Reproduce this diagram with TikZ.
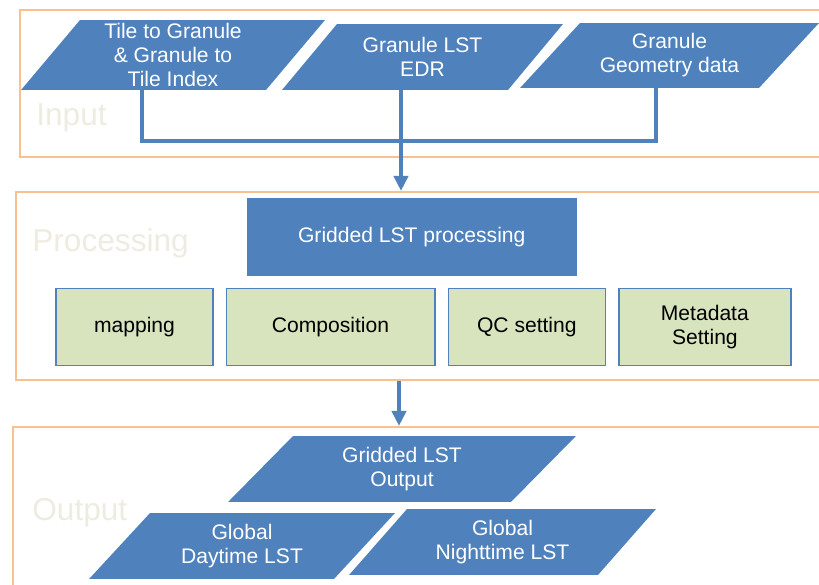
\documentclass[tikz,border=0pt]{standalone}
\usepackage{fontspec}
\setmainfont{Liberation Sans}
\usetikzlibrary{arrows.meta,shapes.geometric,positioning}
\definecolor{accblue}{HTML}{4F81BD}
\definecolor{accgreen}{HTML}{D7E4BD}
\definecolor{accorange}{HTML}{FAC090}
\definecolor{pale}{HTML}{EEECE1}

\begin{document}
\begin{tikzpicture}[x=0.02cm, y=-0.02cm, -,
                    io/.style = {rectangle, inner sep=0pt, text=white, align=center,
                                 font=\fontsize{12}{13.7}\selectfont,
                                 path picture={\fill[accblue]
                                   ([xshift=#1]path picture bounding box.north west)
                                   -- (path picture bounding box.north east)
                                   -- ([xshift=-#1]path picture bounding box.south east)
                                   -- (path picture bounding box.south west) -- cycle;}},
                    io/.default = 1.2cm,
                    frame/.style = {draw=accorange, line width=1.2pt, inner sep=0pt},
                    proc/.style = {fill=accblue, text=white, font=\fontsize{12}{13.7}\selectfont,
                                   minimum width=6.61cm, minimum height=1.56cm},
                    sub/.style = {draw=accblue, line width=0.9pt, fill=accgreen, align=center,
                                  minimum height=1.54cm, font=\fontsize{12}{13.7}\selectfont},
                    tag/.style = {text=pale, anchor=west, inner sep=0pt, font=\fontsize{18}{20}\selectfont},
                    flow/.style = {draw=accblue, line width=2.2pt},
                    tip/.style = {-{Triangle[length=0.3cm,width=0.28cm]}}]
\clip (0,0) rectangle (819,585);
% frames
\node[frame, minimum width=16.2cm, minimum height=2.94cm] (inframe) at (425,83.5) {};
\node[frame, minimum width=16.28cm, minimum height=3.76cm] (procframe) at (423,286) {};
\node[frame, minimum width=16.34cm, minimum height=3.46cm] (outframe) at (421.5,513.5) {};
\node[tag] (intag) at (36,118) {Input};
\node[tag] (proctag) at (32,243) {Processing};
\node[tag] (outtag) at (32,513) {Output};
% input
\node[io=1.18cm, minimum width=6.08cm, minimum height=1.4cm] (tile) at (173,55) {Tile to Granule\\\& Granule to\\Tile Index};
\node[io=1.1cm, minimum width=5.62cm, minimum height=1.32cm] (edr) at (422.5,57) {Granule LST\\EDR};
\node[io=1.2cm, minimum width=5.98cm, minimum height=1.3cm] (geo) at (669.5,55.5) {Granule\\Geometry data};
\coordinate (jl) at (142,141);
\coordinate (jm) at (401,141);
\coordinate (jr) at (656,141);
\draw[flow] (tile.south -| jl) -- (jl) -- (jr) -- (geo.south -| jr);
\draw[flow, tip] (edr.south -| jm) -- (procframe.north -| jm);
% processing
\node[proc] (grid) at (411.75,237) {Gridded LST processing};
\begin{scope}[node distance=0mm and 2.4mm]
\node[sub, minimum width=3.13cm] (map) at (134.5,327) {mapping};
\node[sub, minimum width=4.17cm, right= of map] (comp) {Composition};
\node[sub, minimum width=3.14cm, right= of comp] (qc) {QC setting};
\node[sub, minimum width=3.44cm, right= of qc] (meta) {Metadata\\Setting};
\end{scope}
\coordinate (jd) at (399,400);
\draw[flow, tip] (procframe.south -| jd) -- (outframe.north -| jd);
% output
\node[io=1.3cm, minimum width=6.96cm, minimum height=1.32cm] (gout) at (402,469) {Gridded LST\\Output};
\node[io=1.22cm, minimum width=6.12cm, minimum height=1.32cm] (day) at (242,546) {Global\\Daytime LST};
\node[io=1.16cm, minimum width=6.14cm, minimum height=1.32cm] (night) at (502.5,542) {Global\\Nighttime LST};
\end{tikzpicture}
\end{document}
